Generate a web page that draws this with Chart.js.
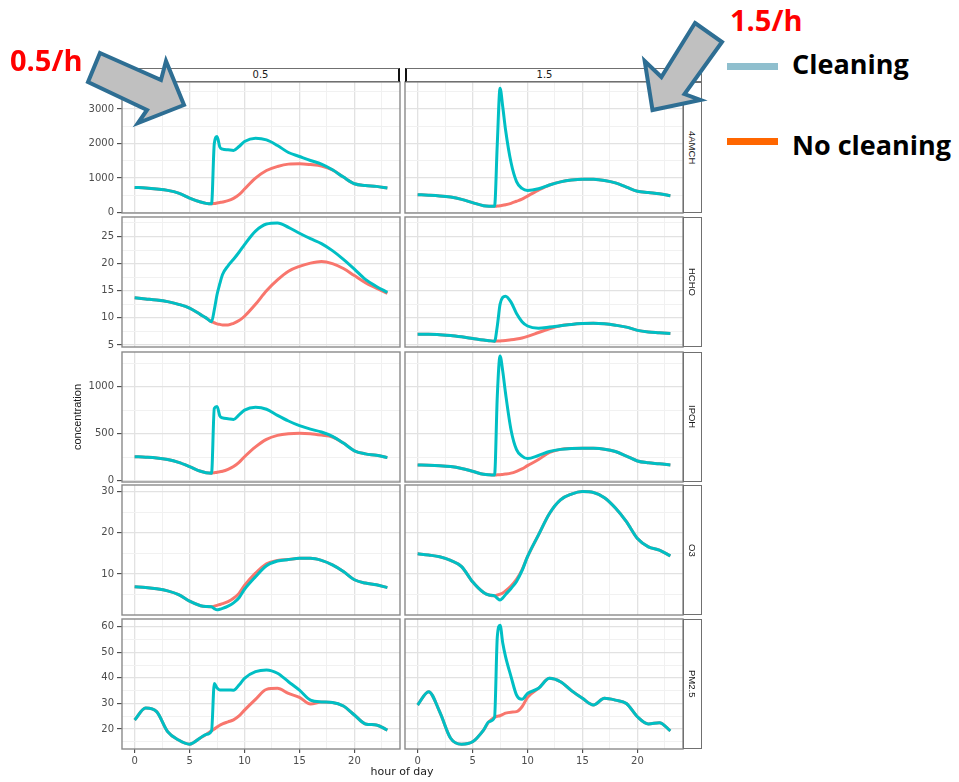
<!DOCTYPE html>
<html>
<head>
<meta charset="utf-8">
<title>Concentration by hour of day</title>
<script src="https://cdn.jsdelivr.net/npm/chart.js@4.4.1/dist/chart.umd.min.js"></script>
<style>
  html,body{margin:0;padding:0;background:#fff;}
  body{width:959px;height:782px;position:relative;overflow:hidden;}
  canvas{position:absolute;}
  .strip{position:absolute;box-sizing:border-box;background:#fff;border:1px solid #707070;color:#1a1a1a;}
  .stripTop{font:10px/12px "DejaVu Sans",sans-serif;text-align:center;}
  .stripRight{display:flex;align-items:center;justify-content:center;font:9.5px "Liberation Sans",Arial,sans-serif;}
  .stripRight span{writing-mode:vertical-rl;}
  .rate{position:absolute;color:#ff0000;font:bold 29px/29px "Open Sans",sans-serif;white-space:nowrap;}
  .legTxt{position:absolute;color:#000;font:bold 27px/27px "Open Sans",sans-serif;white-space:nowrap;}
  .swatch{position:absolute;height:7px;width:51px;}
  #xtitle{position:absolute;left:302px;width:200px;top:765px;text-align:center;font:11px/14px "DejaVu Sans",sans-serif;color:#1a1a1a;}
  svg{position:absolute;left:0;top:0;z-index:10;}
</style>
</head>
<body>
<script>
// ---------------- data ----------------
const hours = [0,1,2,3,4,5,6,6.5,7,7.25,7.5,7.75,8,8.5,9,9.5,10,11,12,13,14,15,16,17,18,19,20,21,22,23];
const rateLabels = ['0.5', '1.5'];
const speciesLabels = ['4AMCH', 'HCHO', 'IPOH', 'O3', 'PM2.5'];
const seriesNames = ['Cleaning', 'No cleaning'];
const xTickLabels = [0, 5, 10, 15, 20];

const clean05_4AMCH = [731,712,683,644,567,423,308,269,255,2000,2200,1900,1837,1817,1800,1913,2058,2154,2106,1942,1740,1625,1510,1404,1240,1029,837,788,760,712];
const none05_4AMCH  = [731,712,683,644,567,423,308,269,255,265,280,295,310,346,413,519,683,1000,1221,1337,1404,1413,1390,1350,1240,1029,837,788,760,712];
const clean15_4AMCH = [519,505,485,450,385,290,200,185,183,2000,3600,3050,2400,1450,900,700,640,690,800,890,945,970,965,930,860,740,620,580,545,490];
const none15_4AMCH  = [519,505,485,450,385,290,200,185,183,190,200,215,228,270,330,390,480,650,800,890,945,970,965,930,860,740,620,580,545,490];

const clean05_HCHO = [13.7,13.5,13.3,13.0,12.5,11.8,10.6,10.0,9.3,11.5,14.3,16.3,18.0,19.6,20.8,22.1,23.5,26.0,27.3,27.5,26.7,25.6,24.6,23.7,22.4,20.8,19.0,17.1,15.8,14.7];
const none05_HCHO  = [13.7,13.5,13.3,13.0,12.5,11.8,10.6,10.0,9.3,9.1,8.9,8.8,8.7,8.7,9.0,9.5,10.3,12.5,15.0,17.0,18.6,19.5,20.1,20.4,20.0,19.1,17.8,16.5,15.5,14.5];
const clean15_HCHO = [7.0,7.0,6.9,6.75,6.5,6.2,5.9,5.8,5.7,8.5,12.5,13.8,14.0,12.9,10.8,9.3,8.5,8.1,8.3,8.55,8.8,8.95,9.0,8.9,8.65,8.3,7.7,7.4,7.25,7.1];
const none15_HCHO  = [7.0,7.0,6.9,6.75,6.5,6.2,5.9,5.8,5.7,5.72,5.75,5.8,5.85,5.95,6.1,6.3,6.6,7.3,8.0,8.55,8.8,8.95,9.0,8.9,8.65,8.3,7.7,7.4,7.25,7.1];

const clean05_IPOH = [255,250,242,225,195,150,100,85,80,770,790,690,668,660,652,700,750,780,760,695,635,585,548,518,472,400,318,285,270,245];
const none05_IPOH  = [255,250,242,225,195,150,100,85,80,85,90,96,100,120,150,195,255,360,440,482,500,505,500,485,465,400,318,285,270,245];
const clean15_IPOH = [167,165,160,150,130,100,68,62,60,900,1326,1160,930,540,330,262,235,268,310,333,343,345,344,335,310,262,210,190,180,167];
const none15_IPOH  = [167,165,160,150,130,100,68,62,60,62,64,67,70,80,100,125,160,225,300,333,343,345,344,335,310,262,210,190,180,167];

const clean05_O3 = [6.9,6.7,6.4,5.9,5.0,3.4,2.3,2.1,2.05,1.6,1.3,1.45,1.65,2.2,3.0,4.25,6.3,9.35,12.0,13.15,13.5,13.8,13.8,13.3,12.2,10.6,8.6,7.8,7.4,6.7];
const none05_O3  = [6.9,6.7,6.4,5.9,5.0,3.4,2.3,2.1,2.05,2.2,2.4,2.6,2.8,3.3,4.1,5.3,7.2,10.2,12.5,13.3,13.5,13.8,13.8,13.3,12.2,10.6,8.6,7.8,7.4,6.7];
const clean15_O3 = [14.9,14.6,14.2,13.3,11.8,8.1,5.5,4.9,4.7,4.1,3.7,4.2,5.0,6.5,8.2,10.8,14.2,19.5,24.7,28.0,29.4,30.0,29.8,28.5,26.0,22.7,18.6,16.6,15.8,14.4];
const none15_O3  = [14.9,14.6,14.2,13.3,11.8,8.1,5.5,4.9,4.7,4.9,5.1,5.4,5.9,7.1,8.7,11.0,14.2,19.5,24.7,28.0,29.4,30.0,29.8,28.5,26.0,22.7,18.6,16.6,15.8,14.4];

const clean05_PM25 = [23.5,28.2,26.8,19.0,15.7,14.1,16.6,17.9,19.3,37.8,36.0,35.3,35.3,35.3,35.2,37.2,39.8,42.4,43.1,41.8,38.5,35.2,31.3,30.6,30.4,29.0,25.5,22.0,21.6,19.6];
const none05_PM25  = [23.5,28.2,26.8,19.0,15.7,14.1,16.6,17.9,19.3,20.0,20.8,21.5,22.0,22.8,23.6,25.1,27.4,31.6,35.5,35.9,33.9,32.4,29.8,30.6,30.4,29.0,25.5,22.0,21.6,19.6];
const clean15_PM25 = [29.4,34.6,26.8,16.4,14.1,15.0,19.6,22.9,24.6,56.0,60.6,53.5,48.3,40.5,33.3,31.6,33.9,35.9,39.8,38.5,35.0,32.0,29.4,32.0,31.3,30.0,24.8,22.0,22.5,19.3];
const none15_PM25  = [29.4,34.6,26.8,16.4,14.1,15.0,19.6,22.9,24.6,25.0,25.2,25.7,26.2,26.6,26.8,28.7,32.4,35.9,39.8,38.5,35.0,32.0,29.4,32.0,31.3,30.0,24.8,22.0,22.5,19.3];

// y tick labels (major breaks) per species
const yTicks_4AMCH = [0, 1000, 2000, 3000];
const yTicks_HCHO  = [5, 10, 15, 20, 25];
const yTicks_IPOH  = [0, 500, 1000];
const yTicks_O3    = [10, 20, 30];
const yTicks_PM25  = [20, 30, 40, 50, 60];

// ---------------- layout / axes ----------------
const panelSeries = [
  [[clean05_4AMCH, none05_4AMCH], [clean15_4AMCH, none15_4AMCH]],
  [[clean05_HCHO,  none05_HCHO ], [clean15_HCHO,  none15_HCHO ]],
  [[clean05_IPOH,  none05_IPOH ], [clean15_IPOH,  none15_IPOH ]],
  [[clean05_O3,    none05_O3   ], [clean15_O3,    none15_O3   ]],
  [[clean05_PM25,  none05_PM25 ], [clean15_PM25,  none15_PM25 ]]
];
const rowAxes = [
  {min: -10,  max: 3780, major: yTicks_4AMCH, minorStep: 500},
  {min: 4.63, max: 28.6, major: yTicks_HCHO,  minorStep: 2.5},
  {min: -14,  max: 1369, major: yTicks_IPOH,  minorStep: 250},
  {min: 0.05, max: 31.6, major: yTicks_O3,    minorStep: 5},
  {min: 12.2, max: 63,   major: yTicks_PM25,  minorStep: 5}
];
const rowBounds = [[82,213],[217,347],[352,482],[485,615],[619,749]];
const colLefts = [122, 405];
const PANEL_W = 278;
const X_MIN = -1.15, X_MAX = 24.15, X_STEP = 2.5;

Chart.defaults.font.family = "'DejaVu Sans', sans-serif";
const GRID_MAJOR = '#e2e2e2', GRID_MINOR = '#f1f1f1';
const COL_CLEAN = '#00BFC4', COL_NONE = '#F8766D';

const panelBorder = {
  id: 'panelBorder',
  afterDraw(chart) {
    const a = chart.chartArea, c = chart.ctx;
    c.save(); c.strokeStyle = '#8a8a8a'; c.lineWidth = 1.4;
    c.strokeRect(a.left, a.top, a.width, a.height); c.restore();
  }
};

function ticksBetween(min, max, step) {
  const out = [];
  for (let v = Math.ceil(min / step) * step; v <= max + 1e-9; v += step) out.push(+v.toFixed(6));
  return out;
}
function isMajor(v, majors) { return majors.some(m => Math.abs(m - v) < 1e-9); }

function makePanel(r, c) {
  const ax = rowAxes[r];
  const [top, bottom] = rowBounds[r];
  const H = bottom - top, W = PANEL_W;
  const left = colLefts[c];
  const isLeft = c === 0, isBottom = r === 4;
  const axisW = isLeft ? 62 : 0, axisH = isBottom ? 26 : 0;
  const pad = {left: isLeft ? 0 : 6, right: 6, top: 8, bottom: 8};
  const cv = document.createElement('canvas');
  cv.width = pad.left + axisW + W + pad.right;
  cv.height = pad.top + H + axisH + pad.bottom;
  cv.style.left = (left - axisW - pad.left) + 'px';
  cv.style.top = (top - pad.top) + 'px';
  document.body.appendChild(cv);
  const [clean, none] = panelSeries[r][c];
  const mk = arr => hours.map((h, i) => ({x: h, y: arr[i]}));
  const lineStyle = {borderWidth: 3, pointRadius: 0, fill: false, cubicInterpolationMode: 'monotone'};
  new Chart(cv, {
    type: 'line',
    data: {datasets: [
      Object.assign({label: seriesNames[0], data: mk(clean), borderColor: COL_CLEAN}, lineStyle),
      Object.assign({label: seriesNames[1], data: mk(none), borderColor: COL_NONE}, lineStyle)
    ]},
    options: {
      responsive: false, animation: false, devicePixelRatio: 1,
      layout: {padding: pad},
      plugins: {legend: {display: false}, tooltip: {enabled: false}},
      scales: {
        x: {
          type: 'linear', min: X_MIN, max: X_MAX,
          afterBuildTicks: s => { s.ticks = ticksBetween(X_MIN, X_MAX, X_STEP).map(v => ({value: v})); },
          afterFit: s => { s.height = axisH; s.paddingLeft = 0; s.paddingRight = 0; },
          ticks: {display: isBottom, autoSkip: false, maxRotation: 0, padding: 2, color: '#4d4d4d',
                  font: {size: 10}, callback: v => isMajor(v, xTickLabels) ? String(v) : ''},
          grid: {
            color: ctx => (ctx.tick && isMajor(ctx.tick.value, xTickLabels)) ? GRID_MAJOR : GRID_MINOR,
            lineWidth: ctx => (ctx.tick && isMajor(ctx.tick.value, xTickLabels)) ? 1.3 : 1,
            drawTicks: isBottom, tickLength: 4, tickWidth: 1,
            tickColor: ctx => (ctx.tick && isMajor(ctx.tick.value, xTickLabels)) ? '#333' : 'rgba(0,0,0,0)'
          },
          border: {display: false}
        },
        y: {
          type: 'linear', min: ax.min, max: ax.max,
          afterBuildTicks: s => { s.ticks = ticksBetween(ax.min, ax.max, ax.minorStep).map(v => ({value: v})); },
          afterFit: s => { s.width = axisW; s.paddingTop = 0; s.paddingBottom = 0; },
          ticks: {display: isLeft, autoSkip: false, padding: 3, color: '#4d4d4d',
                  font: {size: 10}, callback: v => isMajor(v, ax.major) ? String(v) : ''},
          grid: {
            color: ctx => (ctx.tick && isMajor(ctx.tick.value, ax.major)) ? GRID_MAJOR : GRID_MINOR,
            lineWidth: ctx => (ctx.tick && isMajor(ctx.tick.value, ax.major)) ? 1.3 : 1,
            drawTicks: isLeft, tickLength: 5, tickWidth: 1,
            tickColor: ctx => (ctx.tick && isMajor(ctx.tick.value, ax.major)) ? '#333' : 'rgba(0,0,0,0)'
          },
          border: {display: false},
          title: (r === 2 && isLeft) ? {
            display: true, text: 'concentration', color: '#1a1a1a',
            font: {family: "'Liberation Sans', Arial, sans-serif", size: 11},
            padding: {top: 11, bottom: 0}
          } : {display: false}
        }
      }
    },
    plugins: [panelBorder]
  });
}

for (let r = 0; r < 5; r++) for (let c = 0; c < 2; c++) makePanel(r, c);

// strips
function addDiv(cls, style, html) {
  const d = document.createElement('div');
  d.className = cls; Object.assign(d.style, style); d.innerHTML = html;
  document.body.appendChild(d); return d;
}
addDiv('strip stripTop', {left: '122px', top: '68px', width: '278px', height: '14px', borderRightColor: '#111', borderRightWidth: '2px'}, rateLabels[0]);
addDiv('strip stripTop', {left: '405px', top: '68px', width: '297px', height: '14px', borderLeftColor: '#111', borderLeftWidth: '2px', paddingRight: '19px'}, rateLabels[1]);
for (let r = 0; r < 5; r++) {
  const [t, b] = rowBounds[r];
  addDiv('strip stripRight', {left: '683px', top: t + 'px', width: '19px', height: (b - t) + 'px'}, '<span>' + speciesLabels[r] + '</span>');
}
addDiv('', {}, '').id = 'xtitle';
document.getElementById('xtitle').textContent = 'hour of day';

// annotations
addDiv('rate', {left: '10px', top: '45px'}, '0.5/h');
addDiv('rate', {left: '730px', top: '5px'}, '1.5/h');
addDiv('swatch', {left: '727px', top: '63px', background: '#8fbfce'}, '');
addDiv('swatch', {left: '727px', top: '138px', background: '#ff6600'}, '');
addDiv('legTxt', {left: '792px', top: '50px'}, seriesNames[0]);
addDiv('legTxt', {left: '792px', top: '131px'}, seriesNames[1]);
</script>
<svg width="959" height="782" viewBox="0 0 959 782">
  <polygon points="100,53 161,80 166,61 184,105 138,123 147,110 88,82" fill="#c0c0c0" stroke="#2e6e93" stroke-width="4" stroke-linejoin="miter"/>
  <polygon points="695,23 722,42 684.5,94 700.5,100 652.5,110 644.7,61 661.4,77" fill="#c0c0c0" stroke="#2e6e93" stroke-width="4" stroke-linejoin="miter"/>
</svg>
</body>
</html>
